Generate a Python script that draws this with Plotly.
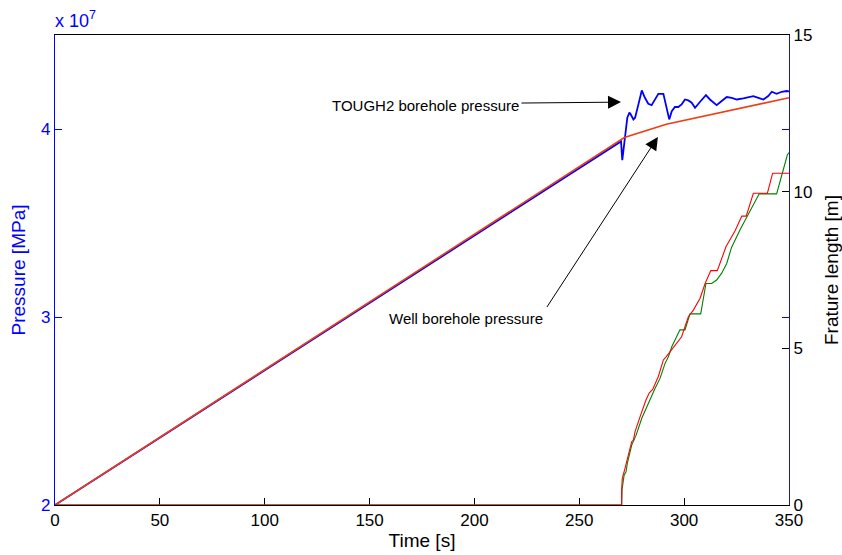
import plotly.graph_objects as go

# Borehole pressure from TOUGH2 (units of 1e7 Pa)
t_tough2 = [0, 269.9, 270.5, 271.8, 272.3, 272.9, 273.9, 274.5, 275.8, 276.6, 278.2,
            279.8, 281.3, 282.9, 284.5, 286.1, 287.7, 290.1, 291.7, 292.9, 294.1,
            295.6, 297.2, 298.8, 300.4, 302.0, 303.6, 305.2, 307.6, 310.4, 312.3,
            315.5, 317.9, 320.3, 322.7, 325.1, 328.2, 333.0, 335.4, 337.8, 340.1,
            341.8, 344.1, 346.5, 348.9, 350.0]
p_tough2 = [2.000, 3.934, 3.834, 3.954, 3.989, 4.060, 4.087, 4.078, 4.051, 4.060, 4.131,
            4.205, 4.166, 4.134, 4.127, 4.157, 4.187, 4.187, 4.113, 4.051, 4.095,
            4.117, 4.117, 4.131, 4.157, 4.152, 4.140, 4.113, 4.145, 4.180, 4.157,
            4.127, 4.149, 4.170, 4.166, 4.157, 4.163, 4.175, 4.166, 4.157, 4.175,
            4.198, 4.187, 4.198, 4.202, 4.200]

# Borehole pressure from the well model (units of 1e7 Pa)
t_well = [0, 271.5, 291.5, 350.0]
p_well = [2.000, 3.955, 4.025, 4.166]

# Fracture length, first model [m]
t_frac_red = [0, 270.2, 270.2, 270.5, 271.8, 272.9, 274.5, 275.0, 275.8, 276.6, 279.0,
              281.8, 283.4, 285.0, 287.7, 290.1, 291.4, 294.9, 298.8, 302.0, 304.4,
              307.6, 310.0, 312.7, 315.8, 320.0, 324.3, 327.5, 329.6, 333.0, 339.7,
              342.2, 350.0]
l_frac_red = [0, 0, 0.48, 0.85, 1.17, 1.44, 1.86, 2.02, 2.07, 2.34, 2.82,
              3.35, 3.58, 3.69, 4.10, 4.63, 4.73, 5.05, 5.37, 6.01, 6.22,
              6.60, 7.07, 7.48, 7.48, 8.25, 8.75, 9.22, 9.22, 9.95, 9.95,
              10.59, 10.59]

# Fracture length, second model [m]
t_frac_green = [0, 270.2, 270.4, 271.4, 272.3, 272.9, 275.0, 276.1, 277.1, 279.8, 282.9,
                285.0, 286.1, 288.5, 290.9, 292.5, 294.1, 298.0, 300.4, 302.8, 307.9,
                310.4, 313.1, 315.5, 317.9, 320.3, 322.6, 326.6, 330.6, 335.8, 344.1,
                347.0, 349.2, 350.0]
l_frac_green = [0, 0, 0.50, 0.96, 1.06, 1.33, 1.91, 2.07, 2.23, 2.77, 3.25,
                3.56, 3.72, 4.04, 4.52, 4.73, 5.05, 5.59, 5.59, 6.10, 6.10,
                7.07, 7.07, 7.18, 7.40, 7.71, 8.22, 8.78, 9.29, 9.93, 9.93,
                10.59, 11.17, 11.25]

x_ticks = [0, 50, 100, 150, 200, 250, 300, 350]
p_ticks = [2, 3, 4]
l_ticks = [0, 5, 10, 15]

FONT = "Liberation Sans, Arial, sans-serif"
BLUE = "#0000ff"

fig = go.Figure()
fig.add_trace(go.Scatter(x=t_tough2, y=p_tough2, mode="lines",
                         line=dict(color=BLUE, width=1.8), yaxis="y",
                         name="TOUGH2 borehole pressure"))
fig.add_trace(go.Scatter(x=t_well, y=p_well, mode="lines",
                         line=dict(color="#f03c10", width=1.6), yaxis="y",
                         name="Well borehole pressure"))
fig.add_trace(go.Scatter(x=t_frac_green, y=l_frac_green, mode="lines",
                         line=dict(color="#008000", width=1.1), yaxis="y2",
                         name="Fracture length (green)"))
fig.add_trace(go.Scatter(x=t_frac_red, y=l_frac_red, mode="lines",
                         line=dict(color="#ff0000", width=1.1), yaxis="y2",
                         name="Fracture length (red)"))

fig.update_layout(
    width=842, height=555,
    margin=dict(l=55, r=53, t=35, b=50),
    paper_bgcolor="white", plot_bgcolor="white",
    showlegend=False,
    font=dict(family=FONT, size=17, color="black"),
    xaxis=dict(
        range=[0, 350], tickvals=x_ticks, ticks="inside", ticklen=7,
        tickcolor="black", showline=True, linecolor="black", linewidth=1,
        mirror=True, showgrid=False, zeroline=False, layer="below traces",
        automargin=False,
        title=dict(text="Time [s]", font=dict(size=19), standoff=4),
    ),
    yaxis=dict(
        range=[2, 4.5], tickvals=p_ticks, ticks="inside", ticklen=7,
        tickcolor=BLUE, tickfont=dict(color=BLUE), showline=True,
        linecolor=BLUE, linewidth=1.3, mirror="ticks", showgrid=False,
        zeroline=False, automargin=False,
        title=dict(text="Pressure [MPa]", font=dict(size=19, color=BLUE), standoff=10),
    ),
    yaxis2=dict(
        range=[0, 15], tickvals=l_ticks, ticks="inside", ticklen=7,
        tickcolor="black", overlaying="y", side="right", showline=True,
        linecolor="#1c1c8c", linewidth=1.3, showgrid=False, zeroline=False,
        automargin=False,
        title=dict(text="Frature length [m]", font=dict(size=19), standoff=14),
    ),
)

# axis exponent label
fig.add_annotation(text="x 10<sup>7</sup>", xref="paper", yref="paper", x=0, y=1,
                   xanchor="left", yanchor="bottom", yshift=2, xshift=-2, showarrow=False,
                   font=dict(size=18, color=BLUE))

# text labels and arrows
fig.add_annotation(text="TOUGH2 borehole pressure", x=176.9, y=4.127, xref="x", yref="y",
                   showarrow=False, font=dict(size=15, color="black"))
fig.add_annotation(text="", x=269.9, y=4.143, ax=221.7, ay=4.138,
                   xref="x", yref="y", axref="x", ayref="y", showarrow=True,
                   arrowhead=2, arrowsize=2.6, arrowwidth=1, arrowcolor="black")
fig.add_annotation(text="Well borehole pressure", x=196.0, y=2.992, xref="x", yref="y",
                   showarrow=False, font=dict(size=15, color="black"))
fig.add_annotation(text="", x=287.5, y=3.958, ax=234.1, ay=3.045,
                   xref="x", yref="y", axref="x", ayref="y", showarrow=True,
                   arrowhead=2, arrowsize=2.6, arrowwidth=1, arrowcolor="black")

fig.write_html("out.html")
